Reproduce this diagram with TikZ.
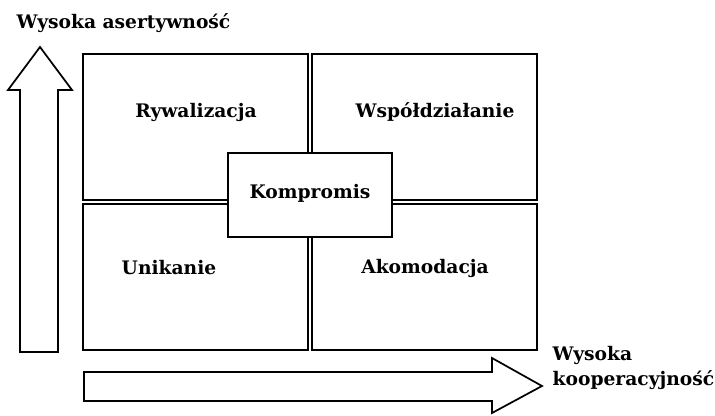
\documentclass[tikz,border=0pt]{standalone}
\usepackage{fontspec}
\setmainfont{DejaVu Serif}
\begin{document}
\begin{tikzpicture}[x=0.75pt,y=-0.75pt,
    etykieta/.style={font=\bfseries\fontsize{14}{19}\selectfont},
    ramka/.style={draw,line width=1.3pt},
    podwojna/.style={draw,double,line width=1.1pt,double distance=2.2pt}]
  \useasboundingbox (0,0) rectangle (715,415);
  % pole z czterema stylami
  \node[ramka,minimum width=340.5pt,minimum height=222pt,inner sep=0pt] (siatka) at (310,202) {};
  \draw[podwojna] (siatka.north) -- (siatka.south);
  \draw[podwojna] (siatka.west) -- (siatka.east);
  \node[ramka,fill=white,minimum width=123pt,minimum height=63pt,etykieta,text depth=6pt] (kompromis) at (310,195) {Kompromis};
  \node[etykieta] (rywalizacja) at (196,112) {Rywalizacja};
  \node[etykieta] (wspoldzialanie) at (435,112) {Współdziałanie};
  \node[etykieta] (unikanie) at (169,268) {Unikanie};
  \node[etykieta] (akomodacja) at (425,268) {Akomodacja};
  % strzalki osi
  \draw[ramka,line join=miter] (20,352) -- (20,90) -- (8,90) -- (40,47) -- (72,90) -- (58,90) -- (58,352) -- cycle;
  \draw[ramka,line join=miter] (84,372) -- (492,372) -- (492,358) -- (542,386) -- (492,413) -- (492,401) -- (84,401) -- cycle;
  \node[etykieta,anchor=west] (asertywnosc) at (12,23) {Wysoka asertywność};
  \node[etykieta,anchor=west,align=left] (kooperacyjnosc) at (548,368) {Wysoka\\kooperacyjność};
\end{tikzpicture}
\end{document}
